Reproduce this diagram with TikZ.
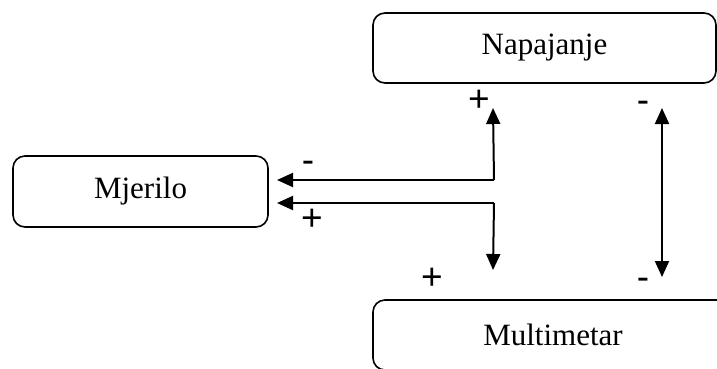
\documentclass[tikz,border=0pt]{standalone}
\usepackage{fontspec}
\setmainfont{Liberation Serif}
\newfontfamily\signfont{Liberation Sans}
\usetikzlibrary{arrows.meta}
\tikzset{
  box/.style={draw, line width=1.6pt, rounded corners=12pt, inner sep=0pt,
    font=\fontsize{31}{36}\selectfont},
  tip/.style={},
  arr/.style={line width=2pt, -{Triangle[length=16pt,width=14pt]}},
  darr/.style={line width=2pt, {Triangle[length=16pt,width=14pt]}-{Triangle[length=16pt,width=14pt]}},
  sign/.style={inner sep=0pt, anchor=base, font=\signfont\fontsize{37}{40}\selectfont}
}
\begin{document}
\begin{tikzpicture}[x=1pt,y=-1pt]
\useasboundingbox (0,0) rectangle (717,368);
\node[box, minimum width=343pt, minimum height=70pt] (nap) at (544.5,48) {Napajanje};
\node[box, minimum width=255pt, minimum height=71pt] (mje) at (140.5,191.5) {Mjerilo};
\node[box, minimum width=360pt, minimum height=70pt] (mul) at (553,335) {Multimetar};
% junction points and free ends
\coordinate (j1) at (494,180);
\coordinate (j2) at (494,203);
\coordinate (t1) at (493,108);
\coordinate (b1) at (493,270);
\coordinate (m1) at (277,180);
\coordinate (m2) at (277,203);
\coordinate (r1) at (662,108);
\coordinate (r2) at (662,277);
\draw[line width=2pt] (j1) -- (j2 |- j1);
\draw[arr] (j1) -- (t1);
\draw[arr] (j1) -- (m1);
\draw[arr] (j2) -- (m2);
\draw[arr] (j2) -- (b1);
\draw[darr] (r1) -- (r2);
% signs
\node[sign] (p1) at (479,111) {+};
\node[sign] (n1) at (643,112) {-};
\node[sign] (n2) at (308,172) {-};
\node[sign] (p2) at (312,230) {+};
\node[sign] (p3) at (432,289) {+};
\node[sign] (n3) at (643,289) {-};
\end{tikzpicture}
\end{document}
